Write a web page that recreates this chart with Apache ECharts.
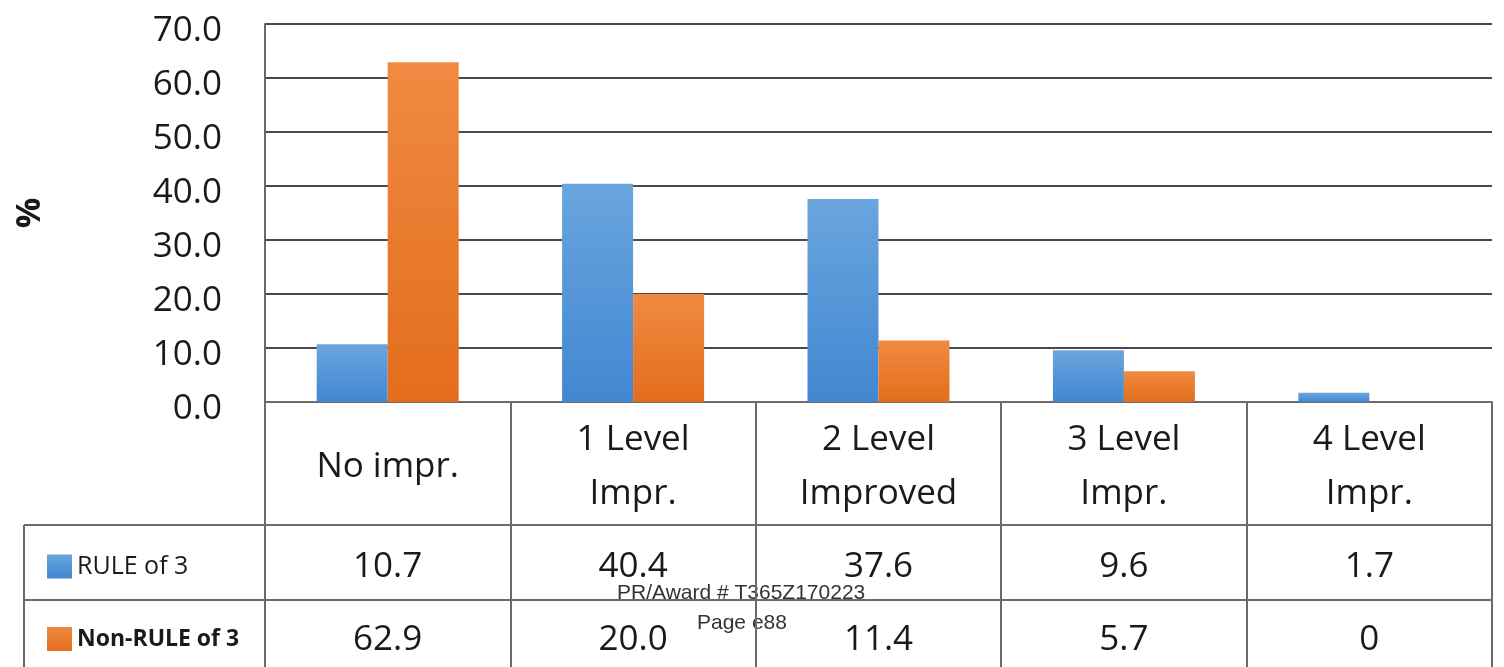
<!DOCTYPE html>
<html>
<head>
<meta charset="utf-8">
<script src="https://cdn.jsdelivr.net/npm/echarts@6/dist/echarts.min.js"></script>
<style>
  html, body { margin: 0; padding: 0; background: #fff; }
  #chart { width: 1504px; height: 667px; }
</style>
</head>
<body>
<div id="chart"></div>
<script>
// 数据
const categories = ['No impr.', '1 Level\nImpr.', '2 Level\nImproved', '3 Level\nImpr.', '4 Level\nImpr.'];
const rule3 = [10.7, 40.4, 37.6, 9.6, 1.7];
const nonRule3 = [62.9, 20.0, 11.4, 5.7, 0];
const seriesNames = ['RULE of 3', 'Non-RULE of 3'];
const yTicks = { min: 0, max: 70, interval: 10 };

// 布局
const gridLeft = 265, gridTop = 24, gridBottom = 402, gridRight = 1492;
const row1 = 525, row2 = 600, tableLeft = 24;
const lineColor = '#6b6b6b';
const font = '"Open Sans", Lato, sans-serif';

function fmt(v) { return v === 0 ? '0' : v.toFixed(1); }

let chart = echarts.init(document.getElementById('chart'));

function tableRowAxis(values, offset, margin) {
    return {
        type: 'category',
        data: values.map(fmt),
        position: 'bottom',
        offset: offset,
        axisLine: { show: false },
        axisTick: { show: false },
        axisLabel: {
            interval: 0,
            color: '#1a1a1a',
            fontFamily: font,
            fontSize: 35,
            lineHeight: 40,
            margin: margin
        }
    };
}

let option = {
    backgroundColor: '#fff',
    animation: false,
    grid: {
        left: gridLeft,
        top: gridTop,
        width: gridRight - gridLeft,
        height: gridBottom - gridTop
    },
    legend: {
        orient: 'vertical',
        left: 42,
        top: 549,
        itemWidth: 25,
        itemHeight: 24,
        itemGap: 48,
        icon: 'rect',
        data: [
            { name: seriesNames[0], textStyle: { fontSize: 25, fontWeight: 'normal', padding: [12, 0, 0, 0] } },
            { name: seriesNames[1], textStyle: { fontSize: 23, fontWeight: 'bold' } }
        ],
        textStyle: { color: '#1a1a1a', fontFamily: font }
    },
    xAxis: [
        {
            type: 'category',
            data: categories,
            axisLine: { show: true, lineStyle: { color: lineColor, width: 2 } },
            axisTick: { show: true, length: 265, lineStyle: { color: lineColor, width: 2 } },
            axisLabel: {
                interval: 0,
                color: '#1a1a1a',
                fontFamily: font,
                fontSize: 35,
                lineHeight: 54,
                verticalAlign: 'middle',
                margin: 65
            }
        },
        tableRowAxis(rule3, row1 - gridBottom, 22),
        tableRowAxis(nonRule3, row2 - gridBottom, 20)
    ],
    yAxis: {
        type: 'value',
        min: yTicks.min,
        max: yTicks.max,
        interval: yTicks.interval,
        name: '%',
        nameLocation: 'middle',
        nameGap: 218,
        nameRotate: 90,
        nameTextStyle: { color: '#1a1a1a', fontFamily: font, fontSize: 34, fontWeight: 'bold' },
        axisLine: { show: true, lineStyle: { color: lineColor, width: 2 } },
        axisTick: { show: false },
        axisLabel: {
            color: '#1a1a1a',
            fontFamily: font,
            fontSize: 35,
            margin: 43,
            verticalAlign: 'top',
            lineHeight: 14,
            formatter: v => v.toFixed(1)
        },
        splitLine: { lineStyle: { color: '#4a4a4a', width: 2 } }
    },
    series: [
        {
            name: seriesNames[0],
            type: 'bar',
            data: rule3,
            barWidth: 71,
            barGap: '0%',
            itemStyle: {
                color: new echarts.graphic.LinearGradient(0, 0, 0, 1, [
                    { offset: 0, color: '#6aa5de' },
                    { offset: 1, color: '#4187d1' }
                ])
            }
        },
        {
            name: seriesNames[1],
            type: 'bar',
            data: nonRule3,
            barWidth: 71,
            barGap: '0%',
            itemStyle: {
                color: new echarts.graphic.LinearGradient(0, 0, 0, 1, [
                    { offset: 0, color: '#f08a42' },
                    { offset: 1, color: '#e36d1c' }
                ])
            }
        }
    ],
    graphic: [
        // 表格横线
        { type: 'line', shape: { x1: tableLeft, y1: row1, x2: gridRight, y2: row1 }, style: { stroke: lineColor, lineWidth: 2 } },
        { type: 'line', shape: { x1: tableLeft, y1: row2, x2: gridRight, y2: row2 }, style: { stroke: lineColor, lineWidth: 2 } },
        { type: 'line', shape: { x1: tableLeft, y1: row1, x2: tableLeft, y2: 667 }, style: { stroke: lineColor, lineWidth: 2 } },
        // 页脚水印
        { type: 'text', left: 617, top: 583, style: { text: 'PR/Award # T365Z170223', fill: '#333', font: '21px "Liberation Sans", Arial, sans-serif' } },
        { type: 'text', left: 697, top: 613, style: { text: 'Page e88', fill: '#333', font: '21px "Liberation Sans", Arial, sans-serif' } }
    ]
};

chart.setOption(option);
window.onresize = function () { chart.resize(); };
</script>
</body>
</html>
